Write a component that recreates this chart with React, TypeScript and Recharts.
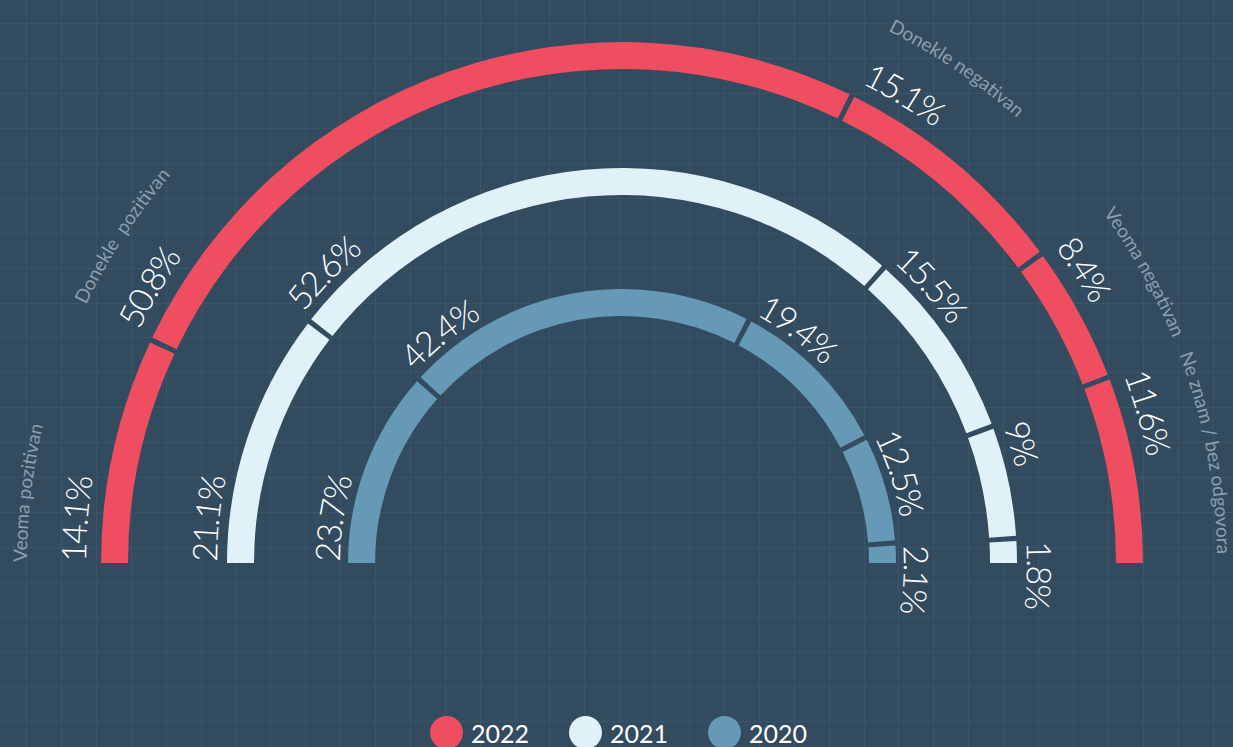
import React from 'react';
import { PieChart, Pie, Cell, Legend } from 'recharts';

// ---- data ----
const categories = [
  'Veoma pozitivan',
  'Donekle  pozitivan',
  'Donekle negativan',
  'Veoma negativan',
  'Ne znam / bez odgovora',
];
const years = ['2022', '2021', '2020'];
const values2022 = [14.1, 50.8, 15.1, 8.4, 11.6];
const values2021 = [21.1, 52.6, 15.5, 9, 1.8];
const values2020 = [23.7, 42.4, 19.4, 12.5, 2.1];

// ---- style / layout ----
const W = 1233;
const H = 747;
const CX = 622;
const CY = 563;
const BG = '#324b5f';
const GRID = '#3a5569';
const COLORS = ['#ee4e5f', '#e0f2f7', '#6699b5'];
const FONT = 'Lato, "Open Sans", sans-serif';

const rings = [
  { year: years[0], values: values2022, color: COLORS[0], inner: 494, outer: 521, pad: 0.58, labelGap: 15, showCats: true },
  { year: years[1], values: values2021, color: COLORS[1], inner: 368, outer: 395, pad: 0.76, labelGap: 10, showCats: false },
  { year: years[2], values: values2020, color: COLORS[2], inner: 247, outer: 274, pad: 1.1, labelGap: 8, showCats: false },
];

const rad = (d: number) => (d * Math.PI) / 180;

function arcPath(cx: number, cy: number, r: number, a0: number, span: number) {
  const a1 = a0 - span;
  const x0 = cx + r * Math.cos(rad(a0));
  const y0 = cy - r * Math.sin(rad(a0));
  const x1 = cx + r * Math.cos(rad(a1));
  const y1 = cy - r * Math.sin(rad(a1));
  return `M ${x0} ${y0} A ${r} ${r} 0 0 1 ${x1} ${y1}`;
}

function makeLabel(ringIdx: number) {
  const ring = rings[ringIdx];
  return (props: any) => {
    const { cx, cy, startAngle, outerRadius, index, value } = props;
    const r = outerRadius + ring.labelGap;
    const pid = `pct-${ringIdx}-${index}`;
    const cid = `cat-${ringIdx}-${index}`;
    return (
      <g>
        <path id={pid} d={arcPath(cx, cy, r, startAngle, 60)} fill="none" stroke="none" />
        <text fill="#ffffff" fontSize={34} fontFamily={FONT} fontWeight={300} letterSpacing={-2}>
          <textPath href={`#${pid}`} startOffset={1}>{`${value}%`}</textPath>
        </text>
        {ring.showCats && (
          <>
            <path id={cid} d={arcPath(cx, cy, 595, startAngle, 60)} fill="none" stroke="none" />
            <text fill="#8d9fad" fontSize={19} fontFamily={FONT} style={{ whiteSpace: 'pre' }}>
              <textPath href={`#${cid}`} startOffset={1}>{categories[index]}</textPath>
            </text>
          </>
        )}
      </g>
    );
  };
}

function GridBg() {
  const vx: number[] = [];
  const hy: number[] = [];
  for (let x = 26; x < W; x += 34.9) vx.push(Math.round(x) + 0.5);
  for (let y = 23.3; y < H; y += 34.9) hy.push(Math.round(y) + 0.5);
  return (
    <svg width={W} height={H} style={{ position: 'absolute', left: 0, top: 0 }}>
      <rect x={0} y={0} width={W} height={H} fill={BG} />
      {vx.map((x) => (
        <line key={`v${x}`} x1={x} x2={x} y1={0} y2={H} stroke={GRID} strokeWidth={1} />
      ))}
      {hy.map((y) => (
        <line key={`h${y}`} x1={0} x2={W} y1={y} y2={y} stroke={GRID} strokeWidth={1} />
      ))}
    </svg>
  );
}

function LegendContent() {
  return (
    <div
      style={{
        display: 'flex',
        justifyContent: 'center',
        alignItems: 'center',
        gap: 40,
        height: 33,
        width: W,
        fontFamily: FONT,
        paddingLeft: 4,
        boxSizing: 'border-box',
      }}
    >
      {years.map((y, i) => (
        <div key={y} style={{ display: 'flex', alignItems: 'center', gap: 8 }}>
          <div style={{ width: 33, height: 33, borderRadius: '50%', background: COLORS[i] }} />
          <span style={{ color: '#ffffff', fontSize: 25, lineHeight: '33px', position: 'relative', top: 1 }}>{y}</span>
        </div>
      ))}
    </div>
  );
}

export default function App() {
  return (
    <div style={{ position: 'absolute', left: 0, top: 0, width: W, height: H, overflow: 'hidden', background: BG }}>
      <GridBg />
      <div style={{ position: 'absolute', left: 0, top: 0 }}>
        <PieChart width={W} height={H} margin={{ top: 0, right: 0, bottom: 0, left: 0 }}>
          {rings.map((ring, ri) => (
            <Pie
              key={ring.year}
              name={ring.year}
              data={categories.map((c, i) => ({ name: c, value: ring.values[i] }))}
              dataKey="value"
              cx={CX}
              cy={CY}
              startAngle={180}
              endAngle={0}
              innerRadius={ring.inner}
              outerRadius={ring.outer}
              paddingAngle={ring.pad}
              stroke="none"
              isAnimationActive={false}
              labelLine={false}
              label={makeLabel(ri)}
            >
              {categories.map((c) => (
                <Cell key={c} fill={ring.color} stroke="none" />
              ))}
            </Pie>
          ))}
          <Legend
            verticalAlign="bottom"
            align="left"
            content={() => <LegendContent />}
            wrapperStyle={{ top: 716, left: 0, width: W, height: 33 }}
          />
        </PieChart>
      </div>
    </div>
  );
}
